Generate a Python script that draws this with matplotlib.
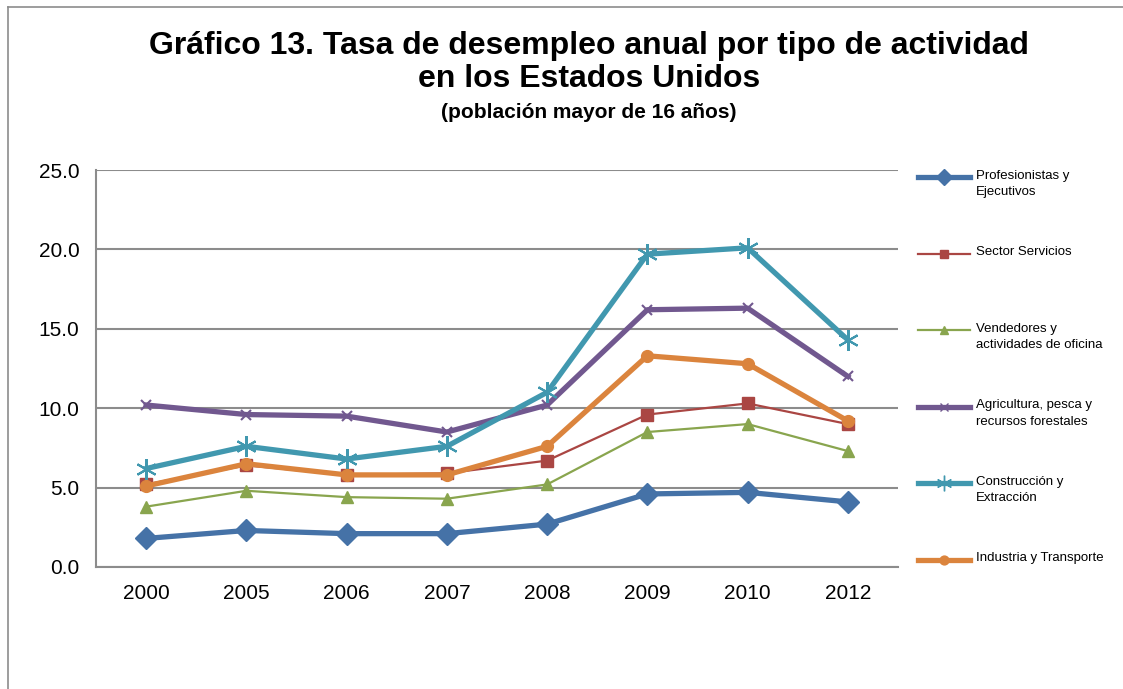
import matplotlib
matplotlib.use("Agg")
import matplotlib.pyplot as plt
from matplotlib.lines import Line2D

plt.rcParams['font.family'] = ['Liberation Sans', 'DejaVu Sans']

anios = ['2000', '2005', '2006', '2007', '2008', '2009', '2010', '2012']

profesionistas = [1.8, 2.3, 2.1, 2.1, 2.7, 4.6, 4.7, 4.1]
servicios = [5.2, 6.4, 5.8, 5.9, 6.7, 9.6, 10.3, 9.0]
vendedores = [3.8, 4.8, 4.4, 4.3, 5.2, 8.5, 9.0, 7.3]
agricultura = [10.2, 9.6, 9.5, 8.5, 10.2, 16.2, 16.3, 12.0]
construccion = [6.2, 7.6, 6.8, 7.6, 11.0, 19.7, 20.1, 14.3]
industria = [5.1, 6.5, 5.8, 5.8, 7.6, 13.3, 12.8, 9.2]

etiquetas = ['Profesionistas y\nEjecutivos', 'Sector Servicios',
             'Vendedores y\nactividades de oficina',
             'Agricultura, pesca y\nrecursos forestales',
             'Construcción y\nExtracción', 'Industria y Transporte']

series = [profesionistas, servicios, vendedores, agricultura, construccion, industria]
colores = ['#4572A7', '#AA4643', '#89A54E', '#71588F', '#4198AF', '#DB843D']
marcadores = ['D', 's', '^', 'x', (6, 2, 0), 'o']
tam = [11, 8, 8.5, 7, 15, 8.5]
grosor = [3.8, 1.6, 1.6, 3.8, 3.8, 3.8]

fig = plt.figure(figsize=(11.23, 6.89), dpi=100)
ax = fig.add_axes([96 / 1123, 1 - 567 / 689, 802 / 1123, 397 / 689])

x = list(range(len(anios)))
for s, c, m, ms, lw in zip(series, colores, marcadores, tam, grosor):
    ax.plot(x, s, color=c, marker=m, markersize=ms, linewidth=lw,
            markeredgecolor=c, markeredgewidth=1.5 if m in ('x', (6, 2, 0)) else 1)

ax.set_xlim(-0.5, len(anios) - 0.5)
ax.set_ylim(0, 25)
ax.set_yticks([0, 5, 10, 15, 20, 25])
ax.set_yticklabels(['%.1f' % v for v in [0, 5, 10, 15, 20, 25]])
ax.set_xticks(x)
ax.set_xticklabels(anios)
ax.tick_params(length=0, labelsize=15)
ax.tick_params(axis='y', pad=12)
ax.tick_params(axis='x', pad=12)
ax.yaxis.grid(True, color='#8C8C8C', linewidth=1.5)
ax.set_axisbelow(True)
for lado in ['top', 'right']:
    ax.spines[lado].set_visible(False)
for lado in ['left', 'bottom']:
    ax.spines[lado].set_color('#8C8C8C')
    ax.spines[lado].set_linewidth(1.5)

# leyenda a la derecha
W, H = 1123.0, 689.0
for i, (lab, c, m, ms, lw) in enumerate(zip(etiquetas, colores, marcadores, tam, grosor)):
    yp = 177 + 76.6 * i
    fig.add_artist(Line2D([918 / W, 970 / W], [1 - yp / H, 1 - yp / H], color=c, linewidth=lw))
    fig.add_artist(Line2D([944 / W], [1 - yp / H], color=c, marker=m, markersize=ms * 0.75,
                          markeredgecolor=c, linestyle='none'))
    fig.text(976 / W, 1 - (yp - 7.5) / H, lab, fontsize=9.5, va='top', ha='left',
             linespacing=1.5)

fig.text(589 / W, 1 - 46 / H, 'Gráfico 13. Tasa de desempleo anual por tipo de actividad',
         fontsize=23, fontweight='bold', ha='center', va='center')
fig.text(589 / W, 1 - 79 / H, 'en los Estados Unidos',
         fontsize=23, fontweight='bold', ha='center', va='center')
fig.text(589 / W, 1 - 112 / H, '(población mayor de 16 años)',
         fontsize=15, fontweight='bold', ha='center', va='center')

# marco
fig.add_artist(Line2D([8 / W, 8 / W], [1 - 7 / H, 0], color='#8C8C8C', linewidth=1.2))
fig.add_artist(Line2D([8 / W, 1], [1 - 7 / H, 1 - 7 / H], color='#8C8C8C', linewidth=1.2))

fig.savefig('out.png', dpi=100)
